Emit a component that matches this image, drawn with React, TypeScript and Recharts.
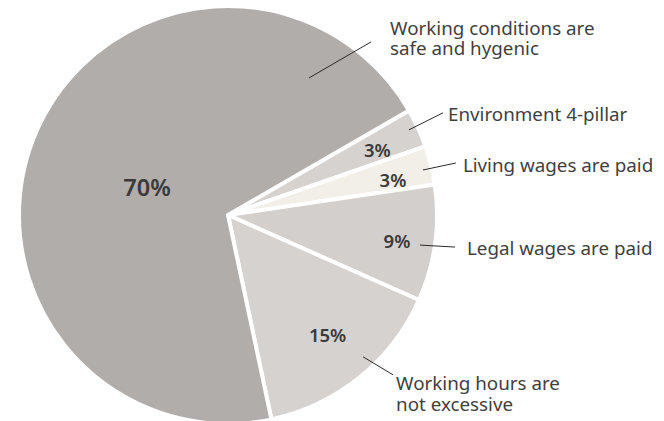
import React from 'react';
import { PieChart, Pie, Cell } from 'recharts';

const categories = [
  'Environment 4-pillar',
  'Living wages are paid',
  'Legal wages are paid',
  'Working hours are not excessive',
  'Working conditions are safe and hygenic',
];
const shares = [3, 3, 9, 15, 70];
const labelLines = [
  ['Environment 4-pillar'],
  ['Living wages are paid'],
  ['Legal wages are paid'],
  ['Working hours are', 'not excessive'],
  ['Working conditions are', 'safe and hygenic'],
];

const colors = ['#d5d2cf', '#f2eee8', '#d2cfcc', '#d5d2cf', '#b1adaa'];

// annotation layout: inner label (radius factor, angle delta), leader start (angle, radius factor), leader end offset, text offset
const layout = [
  { inR: 0.78, da: -1, la: 25.2, lr: 0.957, ex: 34, ey: -17, tx: 5, ty: 1 },
  { inR: 0.807, da: -1.8, la: 13.0, lr: 0.957, ex: 33, ey: -7, tx: 7, ty: 2 },
  { inR: 0.818, da: -0.9, la: -8.9, lr: 0.93, ex: 35, ey: 2, tx: 12, ty: 1 },
  { inR: 0.746, da: 0.7, la: -46.4, lr: 0.937, ex: 30, ey: 18, tx: 3, ty: 8.5 },
  { inR: 0.41, da: 4.9, la: 59.4, lr: 0.762, ex: 62, ey: -36, tx: 19, ty: -14 },
];

const data = categories.map((name, i) => ({ name, value: shares[i] }));

const RAD = Math.PI / 180;
const FONT = "'Noto Sans', sans-serif";

const renderLabel = (props: any) => {
  const { cx, cy, midAngle, outerRadius, index, value } = props;
  const L = layout[index];
  const a = midAngle + L.da;
  const ix = cx + outerRadius * L.inR * Math.cos(-a * RAD);
  const iy = cy + outerRadius * L.inR * Math.sin(-a * RAD);
  const sx = cx + outerRadius * L.lr * Math.cos(-L.la * RAD);
  const sy = cy + outerRadius * L.lr * Math.sin(-L.la * RAD);
  const exx = sx + L.ex;
  const eyy = sy + L.ey;
  const lines = labelLines[index];
  const lh = 20.5;
  const ty0 = eyy + L.ty;
  return (
    <g>
      <text
        x={ix}
        y={iy}
        textAnchor="middle"
        dominantBaseline="central"
        fontFamily={FONT}
        fontSize={index === 4 ? 23.5 : 18.5}
        fontWeight={600}
        fill="#3a3a3a"
      >
        {value}%
      </text>
      <line x1={sx} y1={sy} x2={exx} y2={eyy} stroke="#2b2b2b" strokeWidth={1} />
      {lines.map((t, k) => (
        <text
          key={k}
          x={exx + L.tx}
          y={ty0 + k * lh}
          dominantBaseline="central"
          fontFamily={FONT}
          fontSize={18.8}
          fill="#3f3f3f"
        >
          {t}
        </text>
      ))}
    </g>
  );
};

export default function App() {
  return (
    <div style={{ position: 'absolute', left: 0, top: 0, width: 664, height: 421, background: '#fff' }}>
      <PieChart width={664} height={421} margin={{ top: 0, right: 0, bottom: 0, left: 0 }}>
        <Pie
          data={data}
          dataKey="value"
          nameKey="name"
          cx={228}
          cy={215}
          innerRadius={0}
          outerRadius={209}
          startAngle={30}
          endAngle={-330}
          stroke="#ffffff"
          strokeWidth={4}
          label={renderLabel}
          labelLine={false}
          isAnimationActive={false}
        >
          {data.map((d, i) => (
            <Cell key={d.name} fill={colors[i]} />
          ))}
        </Pie>
      </PieChart>
    </div>
  );
}
